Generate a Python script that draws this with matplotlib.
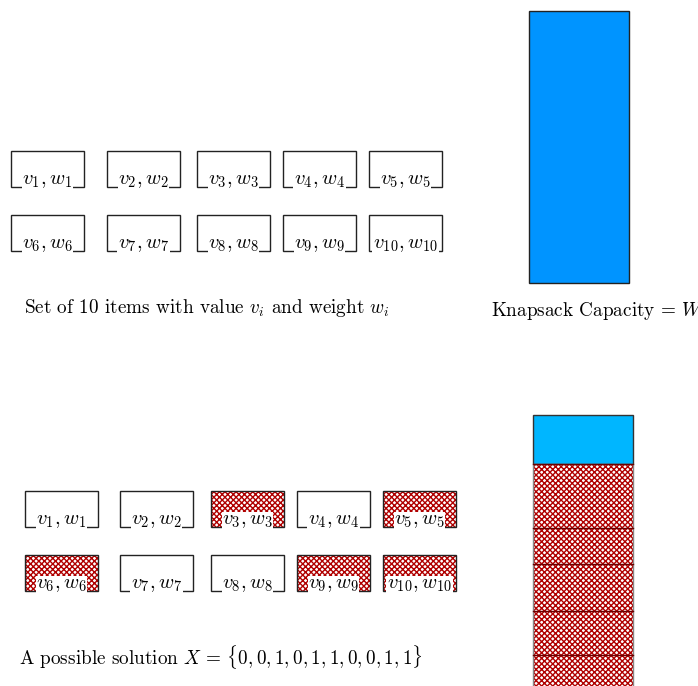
import matplotlib
matplotlib.use("Agg")
import matplotlib.pyplot as plt
from matplotlib.patches import Rectangle

plt.rcParams['font.family'] = 'serif'
plt.rcParams['font.serif'] = ['cmr10', 'DejaVu Serif']
plt.rcParams['mathtext.fontset'] = 'cm'
plt.rcParams['axes.unicode_minus'] = False
plt.rcParams['hatch.linewidth'] = 1.0

# items and the chosen solution
item_ids = [1, 2, 3, 4, 5, 6, 7, 8, 9, 10]
solution = [0, 0, 1, 0, 1, 1, 0, 0, 1, 1]
# stacked heights in the knapsack (picture units), top blue = free space
free_space = 49
chosen_heights = [64, 36, 47, 44, 32]
capacity = 272

# layout (pixels)
top_cols = [11, 107, 197, 283, 369]
bot_cols = [25, 120, 211, 297, 383]
top_rows = [151, 215]
bot_rows = [491, 555]
box_w, box_h = 73, 36

fig = plt.figure(figsize=(6.98, 6.86), dpi=100)
ax = fig.add_axes([0, 0, 1, 1])
ax.set_xlim(0, 698)
ax.set_ylim(686, 0)
ax.axis('off')

hatch_red = '#b00000'


def item_box(x, y, i, picked):
    if picked:
        ax.add_patch(Rectangle((x, y), box_w, box_h, facecolor='white',
                               edgecolor=hatch_red, hatch='xxxxxx', lw=0, zorder=1))
    ax.add_patch(Rectangle((x, y), box_w, box_h, facecolor='none',
                           edgecolor='#222222', lw=1.0, zorder=2))
    ax.text(x + box_w / 2, y + box_h - 6, r'$v_{%d},w_{%d}$' % (i, i),
            ha='center', va='center', fontsize=14.8, zorder=3,
            bbox=dict(facecolor='white', edgecolor='none', pad=0.3))


for k, i in enumerate(item_ids):
    r, c = divmod(k, 5)
    item_box(top_cols[c], top_rows[r], i, False)
    item_box(bot_cols[c], bot_rows[r], i, solution[k] == 1)

ax.text(24, 308, r'Set of 10 items with value $v_i$ and weight $w_i$',
        ha='left', va='center', fontsize=13.8)
ax.text(19, 657, r'A possible solution $X\,=\,\{0,0,1,0,1,1,0,0,1,1\}$',
        ha='left', va='center', fontsize=13.8)

# empty knapsack
ax.add_patch(Rectangle((529, 11), 100, capacity, facecolor='#0094ff',
                       edgecolor='#222222', lw=1.0))
ax.text(491, 311, r'Knapsack Capacity = $W$', ha='left', va='center', fontsize=13.8)

# filled knapsack
kx, ky = 533, 415
ax.add_patch(Rectangle((kx, ky), 100, free_space, facecolor='#00b6ff',
                       edgecolor='#333333', lw=1.0))
y = ky + free_space
for h in chosen_heights:
    ax.add_patch(Rectangle((kx, y), 100, h, facecolor='white',
                           edgecolor=hatch_red, hatch='xxxxxx', lw=0))
    ax.plot([kx, kx + 100], [y, y], color='#6a0000', lw=1.0)
    y += h
ax.add_patch(Rectangle((kx, ky + free_space), 100, capacity - free_space,
                       facecolor='none', edgecolor='#888888', lw=1.0))

fig.savefig('out.png', dpi=100)
